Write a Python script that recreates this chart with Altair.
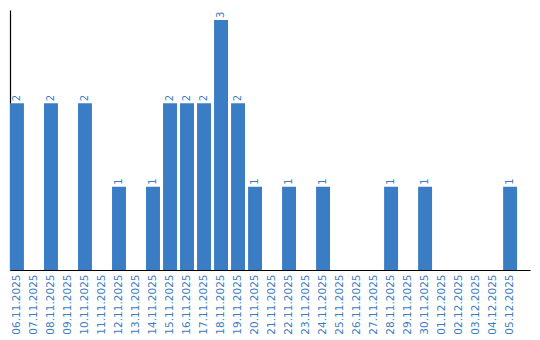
import altair as alt
import pandas as pd

dates = ["06.11.2025", "07.11.2025", "08.11.2025", "09.11.2025", "10.11.2025",
         "11.11.2025", "12.11.2025", "13.11.2025", "14.11.2025", "15.11.2025",
         "16.11.2025", "17.11.2025", "18.11.2025", "19.11.2025", "20.11.2025",
         "21.11.2025", "22.11.2025", "23.11.2025", "24.11.2025", "25.11.2025",
         "26.11.2025", "27.11.2025", "28.11.2025", "29.11.2025", "30.11.2025",
         "01.12.2025", "02.12.2025", "03.12.2025", "04.12.2025", "05.12.2025"]
counts = [2, 0, 2, 0, 2, 0, 1, 0, 1, 2, 2, 2, 3, 2, 1, 0, 1, 0, 1, 0,
          0, 0, 1, 0, 1, 0, 0, 0, 0, 1]

df = pd.DataFrame({"date": dates, "count": counts})
blue = "#3b7dc4"

x = alt.X("date:N", sort=None, title=None,
          scale=alt.Scale(paddingInner=0.18, paddingOuter=0.38, align=0),
          axis=alt.Axis(labelAngle=-90, labelColor=blue, labelFont="DejaVu Sans",
                        labelFontSize=10.5, ticks=False, labelPadding=4,
                        domainColor="black", domainWidth=1.2, labelAlign="right",
                        labelBaseline="middle"))
y = alt.Y("count:Q", title=None, scale=alt.Scale(domain=[0, 3.12], nice=False),
          axis=alt.Axis(labels=False, ticks=False, grid=False, domainColor="black",
                        domainWidth=1.2))

bars = alt.Chart(df).mark_bar(color=blue).encode(x=x, y=y)
text = alt.Chart(df).transform_filter("datum.count > 0").mark_text(
    angle=270, align="left", baseline="middle", dx=2, color=blue,
    font="DejaVu Sans", fontSize=10
).encode(x=x, y=y, text="count:Q")

chart = (bars + text).properties(
    width=520, height=260,
    autosize=alt.AutoSizeParams(type="none"),
    padding={"left": 10, "top": 10, "right": 10, "bottom": 70},
).configure_view(stroke=None)

chart.save("out.html", embed_options={"renderer": "svg", "actions": False})
